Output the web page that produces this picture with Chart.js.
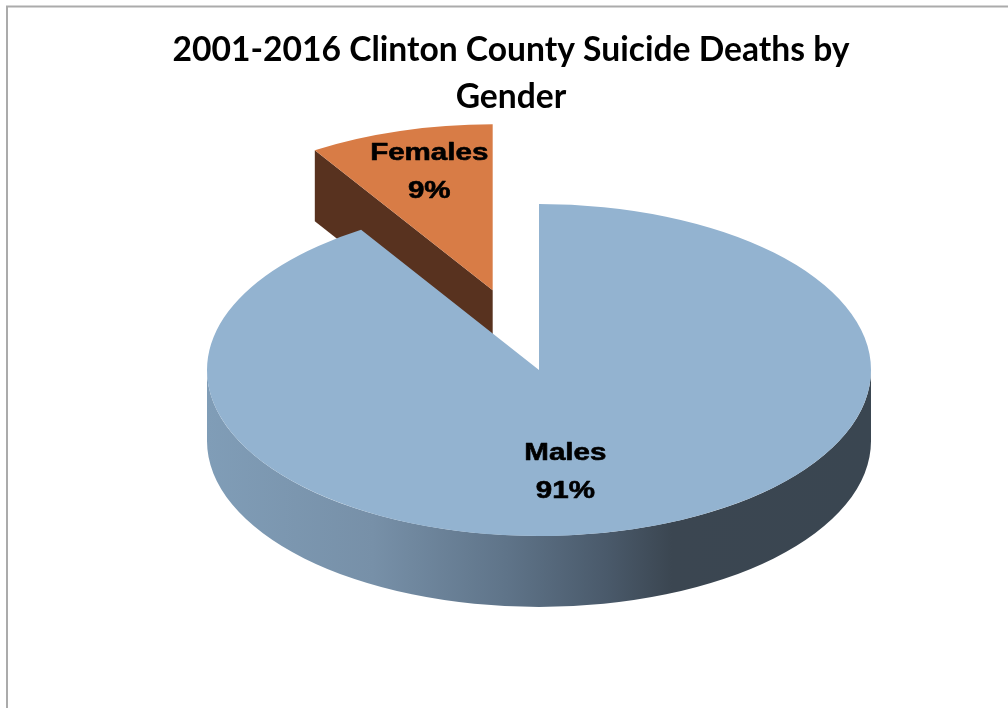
<!DOCTYPE html>
<html><head><meta charset="utf-8">
<script src="https://cdn.jsdelivr.net/npm/chart.js@4.4.1/dist/chart.umd.min.js"></script>
<style>html,body{margin:0;padding:0;background:#fff;overflow:hidden}canvas{display:block}</style>
</head><body>
<canvas id="c" width="1008" height="708"></canvas>
<script>
// ---- data ----
const categories = ['Males', 'Females'];
const values = [91, 9];
const percentLabels = ['91%', '9%'];
const titleLines = ['2001-2016 Clinton County Suicide Deaths by', 'Gender'];

// ---- styles / layout ----
const topColors = ['#93b3d0', '#d87c46'];
const radialSideColors = ['#3b4651', '#58321f'];
const rimStops = [
  [[0, '#809db7'], [0.25, '#7790a8'], [0.45, '#5f7489'], [0.6, '#4a5a6b'], [0.7, '#3b4651'], [1, '#3a4651']],
  [[0, '#58321f'], [1, '#58321f']]
];
const explode = [0, 0.5];
const PIE = {cx: 539, cy: 370, rx: 332, tilt: 0.5, depth: 71};
const labelFrac = [0.63, 0.75];
const labelDx = [-32, 6];

// title font sizing to match reference width
const mctx = document.createElement('canvas').getContext('2d');
mctx.font = 'bold 100px Lato';
const TS = 100 * 677 / mctx.measureText(titleLines[0]).width;

function sliceOrigin(arc, i) {
  const mid = (arc.startAngle + arc.endAngle) / 2;
  const ry = PIE.rx * PIE.tilt;
  return {ox: PIE.cx + explode[i] * PIE.rx * Math.cos(mid), oy: PIE.cy + explode[i] * ry * Math.sin(mid), mid};
}

const pie3d = {
  id: 'pie3d',
  beforeDraw(chart) {
    const ctx = chart.ctx;
    ctx.save();
    ctx.fillStyle = '#fff';
    ctx.fillRect(0, 0, chart.width, chart.height);
    ctx.strokeStyle = '#ababab';
    ctx.lineWidth = 2;
    ctx.strokeRect(7, 6.5, 1200, 900);
    ctx.restore();
  },
  beforeDatasetsDraw(chart) {
    const ctx = chart.ctx;
    const arcs = chart.getDatasetMeta(0).data;
    const R = arcs[0].outerRadius;
    const K = PIE.rx / R;
    const rx = PIE.rx, ry = PIE.rx * PIE.tilt, d = PIE.depth;
    const order = arcs.map((a, i) => i).sort((a, b) => {
      const ka = Math.sin((arcs[a].startAngle + arcs[a].endAngle) / 2) * (0.5 + explode[a]);
      const kb = Math.sin((arcs[b].startAngle + arcs[b].endAngle) / 2) * (0.5 + explode[b]);
      return ka - kb;
    });
    order.forEach(i => {
      const arc = arcs[i];
      const sa = arc.startAngle, ea = arc.endAngle;
      const {ox, oy} = sliceOrigin(arc, i);
      ctx.save();
      const faces = [];
      if (-Math.cos(sa) > 1e-6) faces.push(sa);
      if (Math.cos(ea) > 1e-6) faces.push(ea);
      faces.forEach(t => {
        const px = ox + rx * Math.cos(t), py = oy + ry * Math.sin(t);
        ctx.beginPath();
        ctx.moveTo(ox, oy); ctx.lineTo(px, py); ctx.lineTo(px, py + d); ctx.lineTo(ox, oy + d);
        ctx.closePath();
        ctx.fillStyle = radialSideColors[i];
        ctx.fill();
      });
      const g = ctx.createLinearGradient(ox - rx, 0, ox + rx, 0);
      rimStops[i].forEach(s => g.addColorStop(s[0], s[1]));
      for (let k = -2; k <= 2; k++) {
        const lo = Math.max(sa, 2 * Math.PI * k), hi = Math.min(ea, 2 * Math.PI * k + Math.PI);
        if (hi - lo > 1e-4) {
          ctx.beginPath();
          ctx.ellipse(ox, oy, rx, ry, 0, lo, hi, false);
          ctx.ellipse(ox, oy + d, rx, ry, 0, hi, lo, true);
          ctx.closePath();
          ctx.fillStyle = g;
          ctx.fill();
        }
      }
      ctx.translate(ox, oy);
      ctx.scale(K, K * PIE.tilt);
      ctx.translate(-arc.x, -arc.y);
      arc.draw(ctx);
      ctx.restore();
    });
    return false;
  },
  afterDraw(chart) {
    const ctx = chart.ctx;
    const arcs = chart.getDatasetMeta(0).data;
    const rx = PIE.rx, ry = PIE.rx * PIE.tilt;
    arcs.forEach((arc, i) => {
      const {ox, oy, mid} = sliceOrigin(arc, i);
      const x = ox + labelFrac[i] * rx * Math.cos(mid) + labelDx[i];
      const y = oy + labelFrac[i] * ry * Math.sin(mid);
      ctx.save();
      ctx.fillStyle = '#000';
      ctx.strokeStyle = '#000';
      ctx.lineWidth = 0.6;
      ctx.lineJoin = 'round';
      ctx.font = 'bold 24px "Liberation Sans", Arial, sans-serif';
      ctx.textAlign = 'center';
      ctx.textBaseline = 'alphabetic';
      ctx.translate(x, y);
      ctx.scale(1.23, 1);
      ctx.fillText(categories[i], 0, -10.4);
      ctx.strokeText(categories[i], 0, -10.4);
      ctx.fillText(percentLabels[i], 0, 27.6);
      ctx.strokeText(percentLabels[i], 0, 27.6);
      ctx.restore();
    });
  }
};

new Chart(document.getElementById('c'), {
  type: 'pie',
  data: {
    labels: categories,
    datasets: [{data: values, backgroundColor: topColors, borderWidth: 0}]
  },
  options: {
    responsive: false,
    devicePixelRatio: 1,
    animation: false,
    layout: {padding: {left: 14}},
    plugins: {
      legend: {display: false},
      tooltip: {enabled: false},
      title: {
        display: true,
        text: titleLines,
        color: '#000',
        font: {family: 'Lato', weight: 'bold', size: TS, lineHeight: 47.6 / TS},
        padding: {top: 26, bottom: 10}
      }
    }
  },
  plugins: [pie3d]
});
</script>
</body></html>
